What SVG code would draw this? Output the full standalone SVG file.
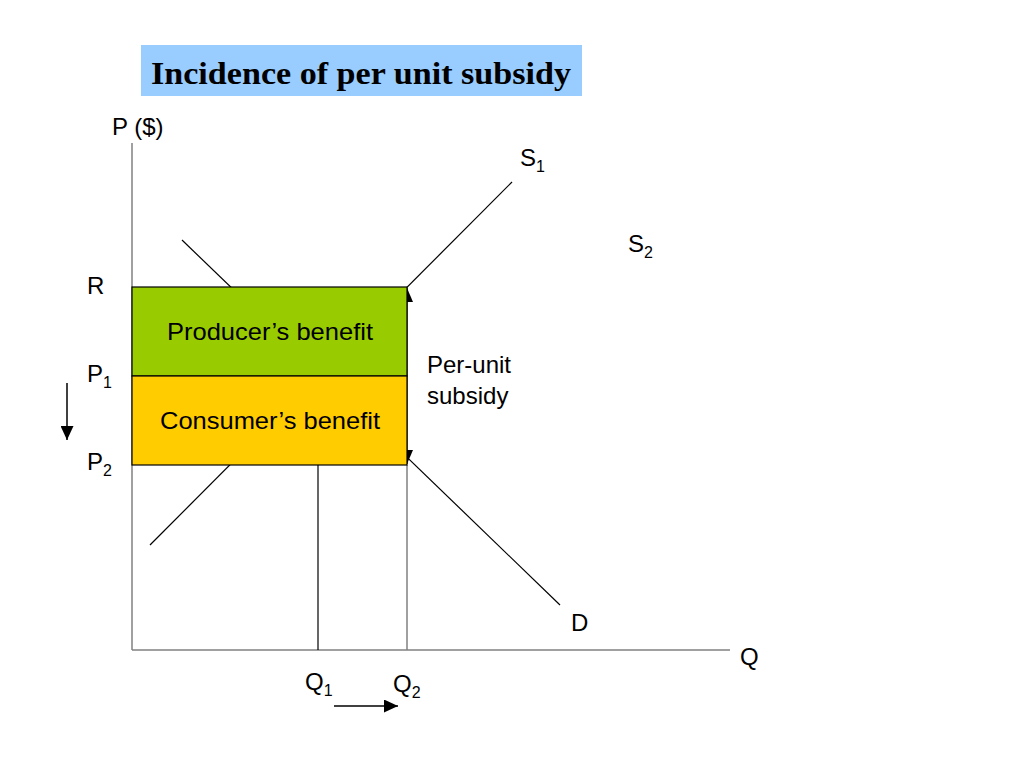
<svg xmlns="http://www.w3.org/2000/svg" width="1024" height="768" viewBox="0 0 1024 768">
<defs>
<marker id="ah" viewBox="0 0 14 12" refX="14" refY="6" markerWidth="14" markerHeight="13" markerUnits="userSpaceOnUse" orient="auto" preserveAspectRatio="none">
<path d="M0,0 L14,6 L0,12 Z" fill="#000"/>
</marker>
<marker id="ahs" viewBox="0 0 14 12" refX="14" refY="6" markerWidth="14" markerHeight="12" markerUnits="userSpaceOnUse" orient="auto" preserveAspectRatio="none">
<path d="M0,0 L14,6 L0,12 Z" fill="#000"/>
</marker>
</defs>
<style>
text{font-family:"Liberation Sans",Arial,sans-serif;font-size:24px;fill:#000}
.sub{font-size:16px}
.axis{stroke:#808080;stroke-width:1.5;fill:none}
.curve{stroke:#000;stroke-width:1.2;fill:none}
.box{stroke:#000;stroke-width:1.2}
</style>
<rect width="1024" height="768" fill="#fff"/>
<g id="title">
<rect x="141" y="45" width="441" height="51" fill="#99CCFF"/>
<text x="151" y="84" textLength="420" lengthAdjust="spacingAndGlyphs" style="font-family:'Liberation Serif','Times New Roman',serif;font-size:31px;font-weight:bold">Incidence of per unit subsidy</text>
</g>
<g id="connectors">
<line class="axis" x1="132" y1="143" x2="132" y2="650"/>
<line class="axis" x1="132" y1="650" x2="730" y2="650"/>
<line class="curve" x1="182" y1="240" x2="560" y2="605"/>
<line class="curve" x1="150" y1="545" x2="512" y2="182"/>
<line class="curve" x1="318" y1="465" x2="318" y2="650"/>
<line class="axis" x1="407" y1="465" x2="407" y2="650"/>
<line x1="407" y1="376" x2="407" y2="288" stroke="#000" stroke-width="1.2" marker-end="url(#ahs)"/>
<line x1="407" y1="376" x2="407" y2="464" stroke="#000" stroke-width="1.2" marker-end="url(#ahs)"/>
<line x1="67" y1="383" x2="67" y2="440" stroke="#000" stroke-width="1.5" marker-end="url(#ah)"/>
<line x1="334" y1="706" x2="398" y2="706" stroke="#000" stroke-width="1.5" marker-end="url(#ah)"/>
</g>
<g id="producer">
<rect class="box" x="132" y="287" width="275" height="89" fill="#99CC00"/>
<text x="167" y="340" textLength="206" lengthAdjust="spacingAndGlyphs">Producer’s benefit</text>
</g>
<g id="consumer">
<rect class="box" x="132" y="376" width="275" height="89" fill="#FFCC00"/>
<text x="160" y="429" textLength="220" lengthAdjust="spacingAndGlyphs">Consumer’s benefit</text>
</g>
<g id="labels">
<text x="112" y="135">P ($)</text>
<text x="520" y="166">S<tspan class="sub" dy="6">1</tspan></text>
<text x="628" y="252">S<tspan class="sub" dy="6">2</tspan></text>
<text x="87" y="294">R</text>
<text x="87" y="382">P<tspan class="sub" dy="6">1</tspan></text>
<text x="87" y="470">P<tspan class="sub" dy="6">2</tspan></text>
<text x="427" y="373">Per-unit</text>
<text x="427" y="404">subsidy</text>
<text x="571" y="631">D</text>
<text x="740" y="665">Q</text>
<text x="305" y="690">Q<tspan class="sub" dy="6">1</tspan></text>
<text x="393" y="692">Q<tspan class="sub" dy="6">2</tspan></text>
</g>
</svg>
